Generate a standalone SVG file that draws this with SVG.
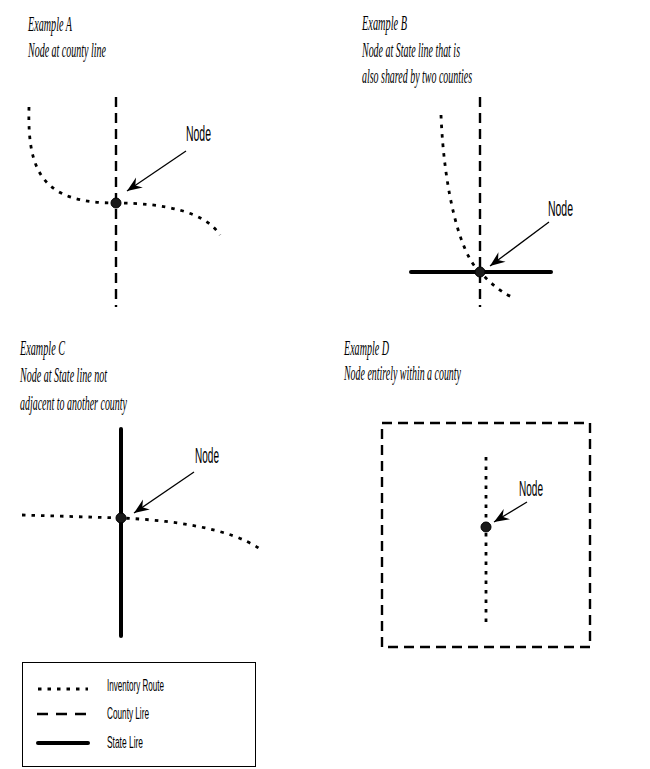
<svg xmlns="http://www.w3.org/2000/svg" width="650" height="769" viewBox="0 0 650 769">
<style>
.title{font-family:"Liberation Serif","Times New Roman",serif;font-style:italic;font-size:21px;fill:#000}
.lbl{font-family:"Liberation Sans",Arial,sans-serif;font-size:22px;fill:#000}
.leg{font-family:"Liberation Sans",Arial,sans-serif;font-size:17px;fill:#000}
.route{fill:none;stroke:#000;stroke-width:2.8;stroke-dasharray:3.5 6}
.county{fill:none;stroke:#000;stroke-width:2.4;stroke-dasharray:10 6}
.state{fill:none;stroke:#000;stroke-width:4;stroke-linecap:round}
.arrow{fill:none;stroke:#000;stroke-width:1.3;marker-end:url(#barb)}
.node{fill:#1a1a1a;stroke:#000;stroke-width:1}
</style>
<defs>
<marker id="barb" markerUnits="userSpaceOnUse" markerWidth="20" markerHeight="16" viewBox="-16 -8 18 16" refX="0" refY="0" orient="auto">
<path d="M0,0 L-15,-6 L-10,0 L-15,6 Z" fill="#000"/>
</marker>
</defs>
<rect width="650" height="769" fill="#fff"/>

<g id="example-a">
<text class="title" x="28" y="31" textLength="44" lengthAdjust="spacingAndGlyphs">Example A</text>
<text class="title" x="28" y="57" textLength="78" lengthAdjust="spacingAndGlyphs">Node at county line</text>
<path class="county" d="M116,97 L116,307"/>
<path class="route" d="M29,107 C27,175 45,203 116,203 C165,203 205,212 220,235"/>
<circle id="node-a" class="node" cx="116" cy="203" r="5"/>
<text class="lbl" x="186" y="141" textLength="25" lengthAdjust="spacingAndGlyphs">Node</text>
</g>

<g id="example-b">
<text class="title" x="362" y="30" textLength="45" lengthAdjust="spacingAndGlyphs">Example B</text>
<text class="title" x="362" y="57" textLength="98" lengthAdjust="spacingAndGlyphs">Node at State line that is</text>
<text class="title" x="362" y="83" textLength="110" lengthAdjust="spacingAndGlyphs">also shared by two counties</text>
<path class="county" d="M480,97 L480,307"/>
<path class="route" d="M441,115 C444,190 460,255 480,272 C492,285 505,295 515,298"/>
<path class="state" d="M411,272 L551,272"/>
<circle id="node-b" class="node" cx="480" cy="272" r="5"/>
<text class="lbl" x="548" y="216" textLength="25" lengthAdjust="spacingAndGlyphs">Node</text>
</g>

<g id="example-c">
<text class="title" x="20" y="355" textLength="45" lengthAdjust="spacingAndGlyphs">Example C</text>
<text class="title" x="20" y="382" textLength="87" lengthAdjust="spacingAndGlyphs">Node at State line not</text>
<text class="title" x="20" y="410" textLength="107" lengthAdjust="spacingAndGlyphs">adjacent to another county</text>
<path class="state" d="M121,429 L121,636"/>
<path class="route" d="M22,515 L121,518 C170,520 230,528 260,549"/>
<circle id="node-c" class="node" cx="121" cy="518" r="5"/>
<text class="lbl" x="195" y="463" textLength="24" lengthAdjust="spacingAndGlyphs">Node</text>
</g>

<g id="example-d">
<text class="title" x="344" y="355" textLength="45" lengthAdjust="spacingAndGlyphs">Example D</text>
<text class="title" x="344" y="380" textLength="117" lengthAdjust="spacingAndGlyphs">Node entirely within a county</text>
<rect class="county" x="382" y="423" width="208" height="224"/>
<path class="route" d="M486,457 L486,627"/>
<circle id="node-d" class="node" cx="486" cy="527" r="5"/>
<text class="lbl" x="519" y="496" textLength="24" lengthAdjust="spacingAndGlyphs">Node</text>
</g>

<g id="connectors">
<path class="arrow" d="M186,151 L127,191"/>
<path class="arrow" d="M549,222 L490,266"/>
<path class="arrow" d="M194,472 L134,513"/>
<path class="arrow" d="M527,502 L494,522"/>
</g>

<g id="legend">
<rect x="22.5" y="662.5" width="233" height="104" fill="none" stroke="#000" stroke-width="1"/>
<path class="route" d="M38,689 L88,689"/>
<path class="county" d="M37,714 L88,714" style="stroke-dasharray:11 8"/>
<path class="state" d="M38,743 L88,743"/>
<text class="leg" x="107" y="691" textLength="57" lengthAdjust="spacingAndGlyphs">Inventory Route</text>
<text class="leg" x="107" y="719" textLength="42" lengthAdjust="spacingAndGlyphs">County Lire</text>
<text class="leg" x="107" y="748" textLength="36" lengthAdjust="spacingAndGlyphs">State Lire</text>
</g>
</svg>
